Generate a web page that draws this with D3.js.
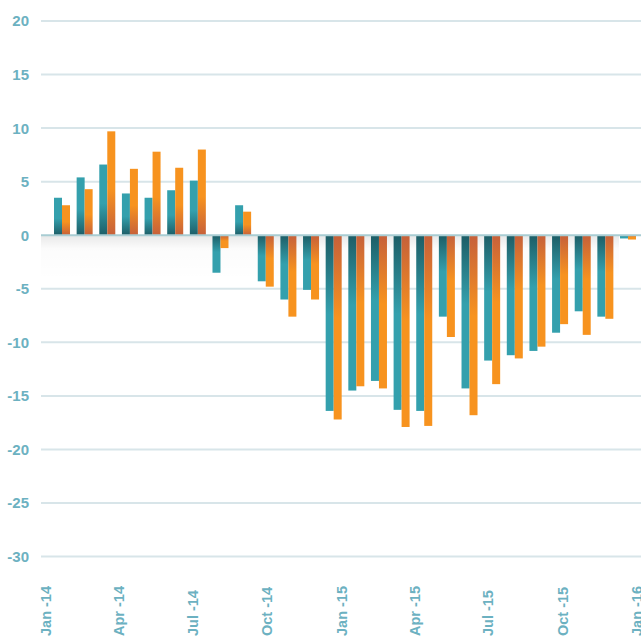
<!DOCTYPE html>
<html>
<head>
<meta charset="utf-8">
<script src="https://cdn.jsdelivr.net/npm/d3@7"></script>
<style>
  body { margin: 0; background: #fff; }
  svg { display: block; }
  text { font-family: "Liberation Sans", Arial, sans-serif; font-weight: bold; fill: #6cb1c1; }
</style>
</head>
<body>
<div id="vis"></div>
<script>
// monthly categories, Jan 2014 .. Feb 2016
var months = ["2014-01","2014-02","2014-03","2014-04","2014-05","2014-06","2014-07","2014-08","2014-09","2014-10","2014-11","2014-12",
              "2015-01","2015-02","2015-03","2015-04","2015-05","2015-06","2015-07","2015-08","2015-09","2015-10","2015-11","2015-12",
              "2016-01","2016-02"];
var seriesA = [3.5, 5.4, 6.6, 3.9, 3.5, 4.2, 5.1, -3.5, 2.8, -4.3, -6.0, -5.1,
               -16.4, -14.5, -13.6, -16.3, -16.4, -7.6, -14.3, -11.7, -11.2, -10.8, -9.1, -7.1, -7.6, -0.3];
var seriesB = [2.8, 4.3, 9.7, 6.2, 7.8, 6.3, 8.0, -1.2, 2.2, -4.8, -7.6, -6.0,
               -17.2, -14.1, -14.3, -17.9, -17.8, -9.5, -16.8, -13.9, -11.5, -10.4, -8.3, -9.3, -7.8, -0.4];
var yTicks = [20, 15, 10, 5, 0, -5, -10, -15, -20, -25, -30];
var xTickDates = ["2014-01","2014-04","2014-07","2014-10","2015-01","2015-04","2015-07","2015-10","2016-01"];

var W = 641, H = 637;
var svg = d3.select("#vis").append("svg").attr("width", W).attr("height", H);

var y = d3.scaleLinear().domain([-30, 20]).range([556.6, 21]);
var x = d3.scaleBand().domain(months).range([54, 636]).paddingInner(0.293).paddingOuter(0);
var xs = d3.scaleBand().domain(["a", "b"]).range([0, x.bandwidth()]);
var parse = d3.timeParse("%Y-%m");
var xt = d3.scaleTime().domain([parse("2014-01"), parse("2016-01")]).range([46, 637]);

var defs = svg.append("defs");
function grad(id, dark, light, up) {
  var g = defs.append("linearGradient").attr("id", id)
    .attr("x1", 0).attr("x2", 0).attr("y1", up ? 1 : 0).attr("y2", up ? 0 : 1);
  g.append("stop").attr("offset", 0).attr("stop-color", dark);
  g.append("stop").attr("offset", 0.45).attr("stop-color", light);
  g.append("stop").attr("offset", 1).attr("stop-color", light);
}
grad("tealUp", "#1d5d66", "#34a0ad", true);
grad("tealDn", "#1d5d66", "#34a0ad", false);
grad("orUp", "#c6603a", "#f7931f", true);
grad("orDn", "#c6603a", "#f7931f", false);
var sh = defs.append("linearGradient").attr("id", "shadow").attr("x1", 0).attr("x2", 0).attr("y1", 0).attr("y2", 1);
sh.append("stop").attr("offset", 0).attr("stop-color", "#000").attr("stop-opacity", 0.09);
sh.append("stop").attr("offset", 0.3).attr("stop-color", "#000").attr("stop-opacity", 0.015);
sh.append("stop").attr("offset", 1).attr("stop-color", "#000").attr("stop-opacity", 0.0);

// grid
svg.append("g").selectAll("line")
  .data(yTicks.filter(function(d) { return d !== 0; }))
  .enter().append("line")
  .attr("x1", 41).attr("x2", W)
  .attr("y1", function(d) { return y(d); }).attr("y2", function(d) { return y(d); })
  .attr("stroke", "#d8e5e9").attr("stroke-width", 2);

// shadow under zero line
svg.append("rect")
  .attr("x", 41).attr("y", y(0)).attr("width", 578).attr("height", 45)
  .attr("fill", "url(#shadow)");

// y labels
svg.append("g").selectAll("text")
  .data(yTicks).enter().append("text")
  .attr("x", 29).attr("y", function(d) { return y(d); })
  .attr("dy", "0.36em").attr("text-anchor", "end")
  .attr("font-size", 15)
  .text(function(d) { return d; });

// bars
var series = [{key: "a", vals: seriesA, up: "url(#tealUp)", dn: "url(#tealDn)"},
              {key: "b", vals: seriesB, up: "url(#orUp)", dn: "url(#orDn)"}];
series.forEach(function(s) {
  svg.append("g").selectAll("rect")
    .data(s.vals).enter().append("rect")
    .attr("x", function(d, i) { return x(months[i]) + xs(s.key); })
    .attr("width", xs.bandwidth())
    .attr("y", function(d) { return d >= 0 ? y(d) : y(0); })
    .attr("height", function(d) { return Math.abs(y(d) - y(0)); })
    .attr("fill", function(d) { return d >= 0 ? s.up : s.dn; });
});

// zero line
svg.append("line")
  .attr("x1", 41).attr("x2", W)
  .attr("y1", y(0)).attr("y2", y(0))
  .attr("stroke", "#a9cdd3").attr("stroke-width", 2);

// x labels
var fmt = d3.timeFormat("%b -%y");
svg.append("g").selectAll("text")
  .data(xTickDates).enter().append("text")
  .attr("transform", function(d) { return "translate(" + xt(parse(d)) + ",636) rotate(-90)"; })
  .attr("dy", "0.36em").attr("text-anchor", "start")
  .attr("font-size", 14.5)
  .text(function(d) { return fmt(parse(d)); });
</script>
</body>
</html>
